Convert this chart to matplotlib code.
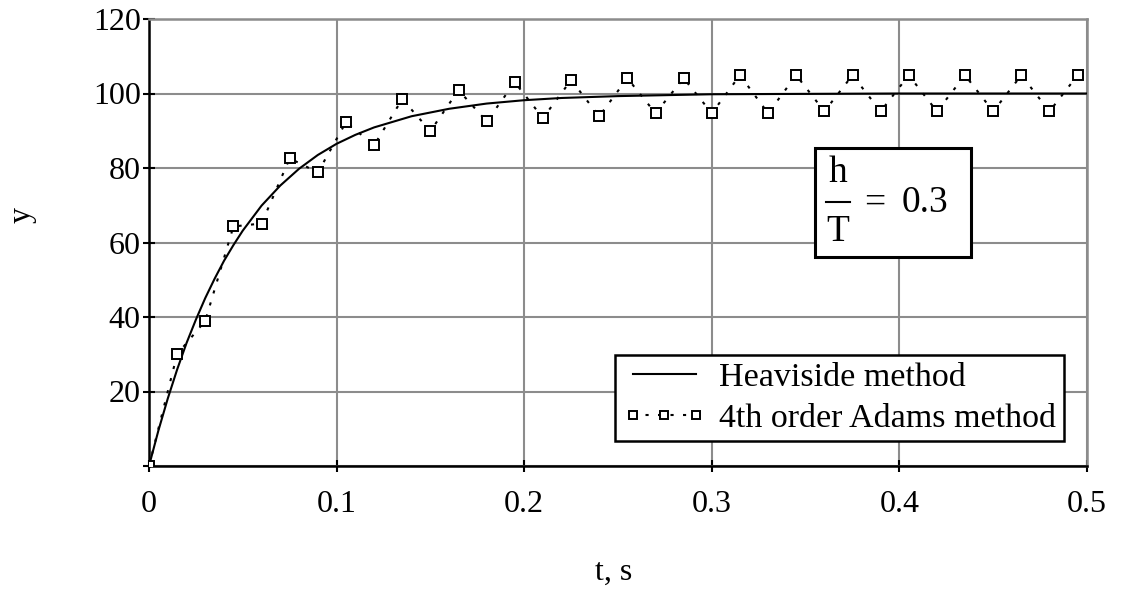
import matplotlib
matplotlib.use("Agg")
import matplotlib.pyplot as plt
from matplotlib.patches import Rectangle
from matplotlib.lines import Line2D

plt.rcParams['font.family'] = ['Liberation Serif', 'DejaVu Serif']

# Heaviside method (smooth curve)
t_heav = [0, 0.005, 0.01, 0.015, 0.02, 0.025, 0.03, 0.035, 0.04, 0.045, 0.05,
          0.06, 0.07, 0.08, 0.09, 0.1, 0.11, 0.12, 0.14, 0.16, 0.18, 0.2,
          0.22, 0.25, 0.3, 0.35, 0.4, 0.45, 0.5]
y_heav = [0, 9.5, 18.1, 25.9, 33.0, 39.3, 45.1, 50.3, 55.1, 59.3, 63.2,
          69.9, 75.3, 79.8, 83.5, 86.5, 88.9, 90.9, 93.9, 95.9, 97.3, 98.2,
          98.8, 99.3, 99.8, 99.9, 100, 100, 100]

# 4th order Adams method, step h = 0.015 s
t_adams = [0, 0.015, 0.03, 0.045, 0.06, 0.075, 0.09, 0.105, 0.12, 0.135, 0.15,
           0.165, 0.18, 0.195, 0.21, 0.225, 0.24, 0.255, 0.27, 0.285, 0.3,
           0.315, 0.33, 0.345, 0.36, 0.375, 0.39, 0.405, 0.42, 0.435, 0.45,
           0.465, 0.48, 0.495]
y_adams = [0, 30.0, 39.0, 64.3, 65.1, 82.6, 78.8, 92.3, 86.1, 98.5, 89.9,
           100.9, 92.5, 103.0, 93.4, 103.6, 93.9, 104.1, 94.7, 104.1, 94.7,
           104.9, 94.7, 104.9, 95.2, 104.9, 95.2, 104.9, 95.2, 104.9, 95.2,
           104.9, 95.2, 104.9]

x_ticks = [0, 0.1, 0.2, 0.3, 0.4, 0.5]
x_labels = ['0', '0.1', '0.2', '0.3', '0.4', '0.5']
y_ticks = [0, 20, 40, 60, 80, 100, 120]
y_labels = ['', '20', '40', '60', '80', '100', '120']

W, H = 1125, 589
fig = plt.figure(figsize=(W / 100, H / 100), dpi=100)
ax = fig.add_axes([149 / W, 1 - 466 / H, (1087 - 149) / W, (466 - 19) / H])

grid_col = '#8c8c8c'
fs = 23

ax.plot(t_heav, y_heav, color='black', lw=1.5, label='Heaviside method', zorder=3)
ax.plot(t_adams, y_adams, color='black', lw=1.5, ls=(0, (1.5, 4.5)),
        marker='s', ms=7.5, mfc='white', mec='black', mew=1.4,
        label='4th order Adams method', zorder=4)

ax.set_xlim(0, 0.5)
ax.set_ylim(0, 120)
ax.set_xticks(x_ticks)
ax.set_xticklabels(x_labels)
ax.set_yticks(y_ticks)
ax.set_yticklabels(y_labels)
ax.tick_params(direction='inout', length=8, width=1.5, labelsize=fs, color='black')
ax.tick_params(axis='x', pad=13)
ax.tick_params(axis='y', pad=2)
ax.grid(True, color=grid_col, lw=1.5, zorder=0)
ax.set_axisbelow(True)

for s in ['left', 'bottom']:
    ax.spines[s].set_color('black')
    ax.spines[s].set_linewidth(1.8)
for s in ['top', 'right']:
    ax.spines[s].set_color(grid_col)
    ax.spines[s].set_linewidth(1.8)

fig.text(22 / W, 1 - 215 / H, 'y', fontsize=fs, rotation=90, ha='center', va='center')
fig.text(614 / W, 1 - 572 / H, 't, s', fontsize=fs, ha='center', va='center')

leg = ax.legend(loc='upper left', bbox_to_anchor=(615 / W, 1 - 355 / H),
                bbox_transform=fig.transFigure, fontsize=24.5, frameon=True,
                fancybox=False, edgecolor='black', framealpha=1, borderaxespad=0,
                borderpad=0.22, handlelength=2.45, handletextpad=0.4,
                labelspacing=0.28, numpoints=3, markerscale=0.7)
leg.get_frame().set_linewidth(1.8)

# h/T = 0.3 box
fig.patches.append(Rectangle((815 / W, 1 - 257 / H), 156 / W, 109 / H,
                             transform=fig.transFigure, fill=True, facecolor='white',
                             edgecolor='black', lw=2.2, zorder=5))
fig.text(838 / W, 1 - 173 / H, 'h', fontsize=27, ha='center', va='center', zorder=6)
fig.lines.append(Line2D([826 / W, 850 / W], [1 - 202 / H, 1 - 202 / H],
                        transform=fig.transFigure, color='black', lw=1.5, zorder=6))
fig.text(838 / W, 1 - 232 / H, 'T', fontsize=27, ha='center', va='center', zorder=6)
fig.text(875 / W, 1 - 203 / H, '=', fontsize=27, ha='center', va='center', zorder=6)
fig.text(925 / W, 1 - 203 / H, '0.3', fontsize=27, ha='center', va='center', zorder=6)

fig.savefig('out.png', dpi=100)
